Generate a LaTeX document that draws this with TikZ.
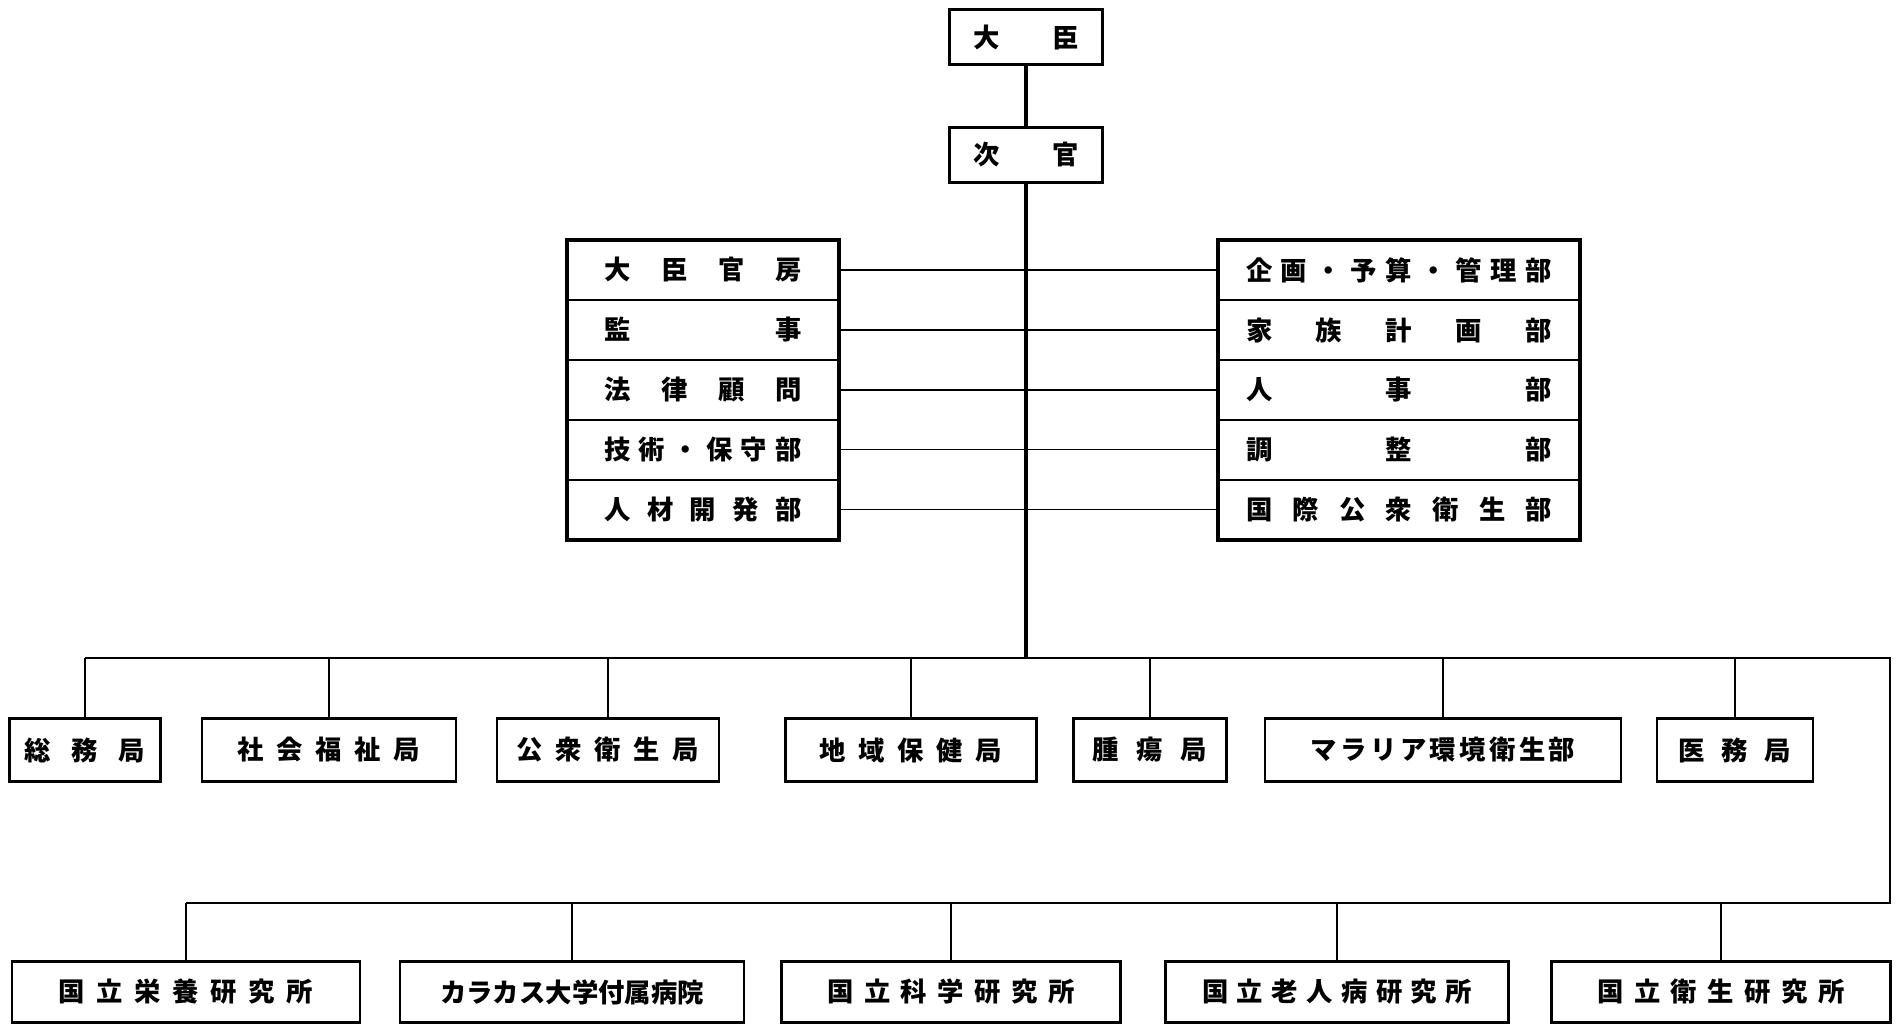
\documentclass[tikz,border=0pt]{standalone}
\usepackage{fontspec}
\newfontfamily\jp{Noto Sans CJK JP}
\usetikzlibrary{positioning}
\newcommand{\cgap}[1]{\hspace{#1em}}
\newcommand{\spread}[2]{\makebox[#1][s]{#2}}

\begin{document}
\begin{tikzpicture}[
    x=0.02cm, y=-0.02cm,
    every node/.style={font=\jp\bfseries\fontsize{15}{18}\selectfont},
    box/.style={rectangle, draw, line width=1.6pt, inner sep=0pt, align=center},
    topbox/.style={box, minimum width=3.06cm, minimum height=1.1cm},
    lrow/.style={box, line width=1pt, outer sep=0pt, minimum width=5.44cm, minimum height=1.2cm},
    rrow/.style={box, line width=1pt, outer sep=0pt, minimum width=7.24cm, minimum height=1.2cm},
    frame/.style={line width=1.8pt},
    bureau/.style={box, minimum height=1.26cm},
    inst/.style={box, minimum height=1.22cm},
    trunk/.style={line width=2pt},
    bus/.style={line width=1.3pt},
    link/.style={line width=0.6pt}
  ]
    \useasboundingbox (0,0) rectangle (1901,1027);

    % top of the chart
    \node[topbox] (daijin) at (1026,37) {\spread{2.12cm}{大\hfill 臣}};
    \node[topbox] (jikan) at (1026,155) {\spread{2.12cm}{次\hfill 官}};

    % left stack
    \node[lrow] (kanbo) at (703,270) {\spread{3.94cm}{大\hfill 臣\hfill 官\hfill 房}};
    \node[lrow, below=0pt of kanbo] (kanji) {\spread{3.94cm}{監\hfill 事}};
    \node[lrow, below=0pt of kanji] (homu) {\spread{3.94cm}{法\hfill 律\hfill 顧\hfill 問}};
    \node[lrow, below=0pt of homu] (gijutsu) {\spread{3.94cm}{技\hfill 術\hfill ・\hfill 保\hfill 守\hfill 部}};
    \node[lrow, below=0pt of gijutsu] (jinzai) {\spread{3.94cm}{人\hfill 材\hfill 開\hfill 発\hfill 部}};
    \draw[frame] (kanbo.north west) rectangle (jinzai.south east);

    % right stack
    \node[rrow] (kikaku) at (1399,270) {\spread{6.12cm}{企\hfill 画\hfill ・\hfill 予\hfill 算\hfill ・\hfill 管\hfill 理\hfill 部}};
    \node[rrow, below=0pt of kikaku] (kazoku) {\spread{6.12cm}{家\hfill 族\hfill 計\hfill 画\hfill 部}};
    \node[rrow, below=0pt of kazoku] (jinji) {\spread{6.12cm}{人\hfill 事\hfill 部}};
    \node[rrow, below=0pt of jinji] (chosei) {\spread{6.12cm}{調\hfill 整\hfill 部}};
    \node[rrow, below=0pt of chosei] (kokusai) {\spread{6.12cm}{国\hfill 際\hfill 公\hfill 衆\hfill 衛\hfill 生\hfill 部}};
    \draw[frame] (kikaku.north west) rectangle (kokusai.south east);

    % bureaus
    \node[bureau, minimum width=3.02cm] (somu) at (85,750) {総\cgap{.78}務\cgap{.78}局};
    \node[bureau, minimum width=5.08cm] (fukushi) at (329,750) {社\cgap{.48}会\cgap{.48}福\cgap{.48}祉\cgap{.48}局};
    \node[bureau, minimum width=4.44cm] (koshu) at (608,750) {公\cgap{.48}衆\cgap{.48}衛\cgap{.48}生\cgap{.48}局};
    \node[bureau, minimum width=5.02cm] (chiiki) at (911,750) {地\cgap{.48}域\cgap{.48}保\cgap{.48}健\cgap{.48}局};
    \node[bureau, minimum width=3.06cm] (shuyo) at (1150,750) {腫\cgap{.67}瘍\cgap{.67}局};
    \node[bureau, minimum width=7.12cm] (malaria) at (1443,750) {マ\cgap{.13}ラ\cgap{.13}リ\cgap{.13}ア\cgap{.13}環\cgap{.13}境\cgap{.13}衛\cgap{.13}生\cgap{.13}部};
    \node[bureau, minimum width=3.12cm] (imu) at (1735,750) {医\cgap{.63}務\cgap{.63}局};

    % institutes
    \node[inst, minimum width=6.96cm] (eiyo) at (186,992) {国\cgap{.44}立\cgap{.44}栄\cgap{.44}養\cgap{.44}研\cgap{.44}究\cgap{.44}所};
    \node[inst, minimum width=6.88cm] (caracas) at (572,992) {カラカス大学付属病院};
    \node[inst, minimum width=6.78cm] (kagaku) at (951,992) {国\cgap{.4}立\cgap{.4}科\cgap{.4}学\cgap{.4}研\cgap{.4}究\cgap{.4}所};
    \node[inst, minimum width=6.86cm] (rojin) at (1337,992) {国\cgap{.32}立\cgap{.32}老\cgap{.32}人\cgap{.32}病\cgap{.32}研\cgap{.32}究\cgap{.32}所};
    \node[inst, minimum width=6.78cm] (eisei) at (1721,992) {国\cgap{.4}立\cgap{.4}衛\cgap{.4}生\cgap{.4}研\cgap{.4}究\cgap{.4}所};

    % bus lines
    \coordinate (bus1w) at (85,658);
    \coordinate (bus1e) at (1890,658);
    \coordinate (bus2w) at (186,903);
    \coordinate (bus2e) at (1890,903);

    \draw[trunk] (daijin) -- (jikan);
    \draw[trunk] (jikan.south) -- (jikan.south |- bus1w);
    \foreach \l/\r in {kanbo/kikaku, kanji/kazoku, homu/jinji, gijutsu/chosei, jinzai/kokusai}
      \draw[link] (\l.east) -- (\r.west);

    \draw[bus] (bus1w) -- (bus1e) -- (bus2e) -- (bus2w);
    \foreach \n in {somu, fukushi, koshu, chiiki, shuyo, malaria, imu}
      \draw[bus] (\n.north) -- (\n.north |- bus1w);
    \foreach \n in {eiyo, caracas, kagaku, rojin, eisei}
      \draw[bus] (\n.north) -- (\n.north |- bus2w);
  \end{tikzpicture}
\end{document}
